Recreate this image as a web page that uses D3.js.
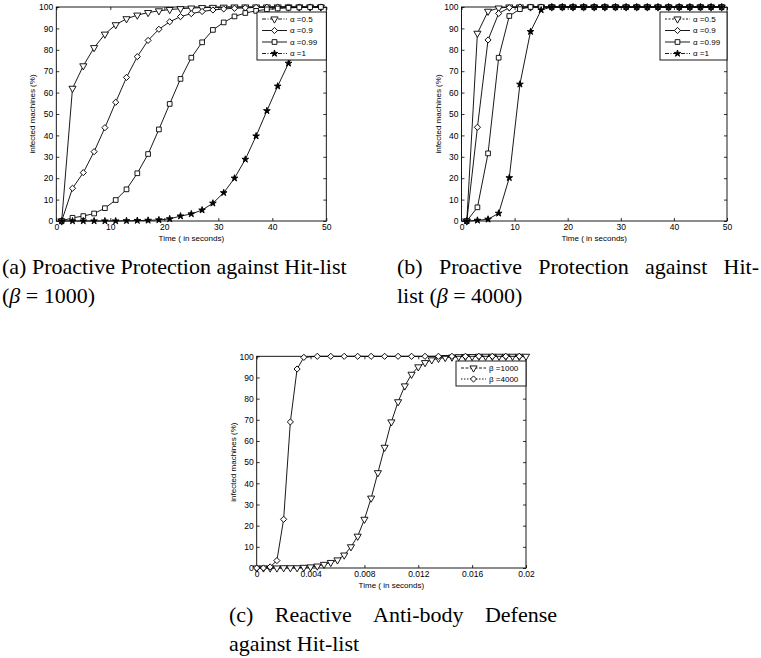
<!DOCTYPE html>
<html>
<head>
<meta charset="utf-8">
<script src="https://d3js.org/d3.v7.min.js"></script>
<style>
  body { margin: 0; background: #fff; }
  svg text { fill: #000; }
  .tick text { font-family: "Liberation Sans", Arial, sans-serif; font-size: 8.5px; }
  .lab { font-family: "Liberation Sans", Arial, sans-serif; font-size: 8px; }
  .cap { font-family: "Liberation Serif", "Times New Roman", serif; font-size: 22px; }
</style>
</head>
<body>
<svg id="fig" width="761" height="658"></svg>
<script>
"use strict";

// (a) and (b): time in seconds
var timeAB = [1, 3, 5, 7, 9, 11, 13, 15, 17, 19, 21, 23, 25, 27, 29, 31, 33, 35, 37, 39, 41, 43, 45, 47, 49];

// (a) beta = 1000
var a05  = [0, 62, 72.5, 81, 87.3, 91.7, 94.5, 96.2, 97.4, 98.2, 98.8, 99.2, 99.5, 99.7, 99.8, 99.9, 100, 100, 100, 100, 100, 100, 100, 100, 100];
var a09  = [0, 15.3, 22.6, 32.4, 43.6, 55.5, 67.1, 76.8, 84.4, 89.6, 93.1, 95.5, 96.9, 97.9, 98.6, 99.1, 99.4, 99.6, 99.8, 99.9, 100, 100, 100, 100, 100];
var a099 = [0, 1.5, 2.3, 3.5, 6, 9.8, 14.8, 22.3, 31.3, 42.8, 54.7, 66.4, 76.3, 83.5, 89.3, 92.8, 95.6, 97.2, 98.2, 98.9, 99.3, 99.6, 99.8, 99.9, 100];
var a1   = [0, 0, 0, 0, 0, 0, 0.1, 0.2, 0.3, 0.5, 1, 2.3, 3.3, 5.1, 8.3, 13.2, 20, 28.8, 39.7, 51.5, 63, 73.7, 82.5, 89, 93];

// (b) beta = 4000
var b05  = [0, 87.7, 98, 99.5, 100, 100, 100, 100, 100, 100, 100, 100, 100, 100, 100, 100, 100, 100, 100, 100, 100, 100, 100, 100, 100];
var b09  = [0, 43.8, 84.6, 97, 99.7, 100, 100, 100, 100, 100, 100, 100, 100, 100, 100, 100, 100, 100, 100, 100, 100, 100, 100, 100, 100];
var b099 = [0, 6.4, 31.6, 76.3, 95.8, 99, 100, 100, 100, 100, 100, 100, 100, 100, 100, 100, 100, 100, 100, 100, 100, 100, 100, 100, 100];
var b1   = [0, 0.3, 0.8, 3.6, 20.2, 63.9, 88.5, 98.6, 100, 100, 100, 100, 100, 100, 100, 100, 100, 100, 100, 100, 100, 100, 100, 100, 100];

// (c) reactive anti-body defense, time in seconds
var timeC = [0, 0.0005, 0.001, 0.0015, 0.002, 0.0025, 0.003, 0.0035, 0.004, 0.0045,
             0.005, 0.0055, 0.006, 0.0065, 0.007, 0.0075, 0.008, 0.0085, 0.009, 0.0095,
             0.01, 0.0105, 0.011, 0.0115, 0.012, 0.0125, 0.013, 0.0135, 0.014, 0.0145,
             0.015, 0.0155, 0.016, 0.0165, 0.017, 0.0175, 0.018, 0.0185, 0.019, 0.0195, 0.02];
var c1000 = [0, 0, 0, 0, 0.1, 0.1, 0.1, 0.3, 0.5, 0.9,
             1.7, 2.6, 3.8, 6.1, 10, 15, 23, 33, 45, 57,
             69, 78.5, 86, 91.5, 95, 97, 98.3, 99, 99.4, 99.6,
             99.8, 99.9, 99.9, 100, 100, 100, 100, 100, 100, 100, 100];
// beta = 4000 is sampled more coarsely once it saturates
var timeC4 = [0, 0.0005, 0.001, 0.0015, 0.002, 0.0025, 0.003, 0.0035, 0.0045,
              0.0055, 0.0065, 0.0075, 0.0085, 0.0095, 0.0105, 0.0115, 0.0125,
              0.0135, 0.0145, 0.0155, 0.0165, 0.0175, 0.0185, 0.0195];
var c4000 = [0, 0, 0.5, 3.5, 23, 69, 94, 99.5, 100,
             100, 100, 100, 100, 100, 100, 100, 100,
             100, 100, 100, 100, 100, 100, 100];

var yTicks = [0, 10, 20, 30, 40, 50, 60, 70, 80, 90, 100];
var xTicksAB = [0, 10, 20, 30, 40, 50];
var xTicksC = [0, 0.004, 0.008, 0.012, 0.016, 0.02];
var xLabelsC = ["0", "0.004", "0.008", "0.012", "0.016", "0.02"];
var alphaNames = ["\u03b1 =0.5", "\u03b1 =0.9", "\u03b1 =0.99", "\u03b1 =1"];
var betaNames = ["\u03b2 =1000", "\u03b2 =4000"];

var svg = d3.select("#fig");

/*
 * marker shapes, MATLAB style
 */
var markers = {
	tri:  { type: d3.symbolTriangle, size: 22, rot: 180, fill: "#fff" },
	dia:  { type: d3.symbolSquare,   size: 19, rot: 45,  fill: "#fff" },
	sq:   { type: d3.symbolSquare,   size: 22, rot: 0,   fill: "#fff" },
	star: { type: d3.symbolStar,     size: 14, rot: 0,   fill: "#000" }
};

function addMarker(g, m, cx, cy) {
	g.append("path")
		.attr("d", d3.symbol().type(m.type).size(m.size)())
		.attr("transform", "translate(" + cx + "," + cy + ") rotate(" + m.rot + ")")
		.attr("fill", m.fill)
		.attr("stroke", "#000")
		.attr("stroke-width", 0.9);
}

function drawPanel(p) {
	var x = d3.scaleLinear().domain(p.xDomain).range([p.left, p.right]);
	var y = d3.scaleLinear().domain([0, 100]).range([p.bottom, p.top]);
	var g = svg.append("g");

	// inward ticks on all four sides
	g.append("g")
		.attr("transform", "translate(0," + p.bottom + ")")
		.call(d3.axisBottom(x).tickValues(p.xTicks)
			.tickFormat(function(d, i) { return p.xLabels[i]; })
			.tickSizeInner(-3).tickSizeOuter(0).tickPadding(3));
	g.append("g")
		.attr("transform", "translate(0," + p.top + ")")
		.call(d3.axisTop(x).tickValues(p.xTicks).tickFormat("")
			.tickSizeInner(-3).tickSizeOuter(0));
	g.append("g")
		.attr("transform", "translate(" + p.left + ",0)")
		.call(d3.axisLeft(y).tickValues(yTicks).tickFormat(d3.format("d"))
			.tickSizeInner(-3).tickSizeOuter(0).tickPadding(3));
	g.append("g")
		.attr("transform", "translate(" + p.right + ",0)")
		.call(d3.axisRight(y).tickValues(yTicks).tickFormat("")
			.tickSizeInner(-3).tickSizeOuter(0));
	g.selectAll(".domain").remove();
	g.selectAll(".tick line").attr("stroke", "#000").attr("stroke-width", 0.8);

	g.append("rect")
		.attr("x", p.left).attr("y", p.top)
		.attr("width", p.right - p.left).attr("height", p.bottom - p.top)
		.attr("fill", "none").attr("stroke", "#000").attr("stroke-width", 0.9);

	// curves
	var line = d3.line()
		.x(function(d) { return x(d[0]); })
		.y(function(d) { return y(d[1]); });

	p.series.forEach(function(s) {
		var pts = s.time.map(function(t, i) { return [t, s.values[i]]; });
		g.append("path")
			.datum(pts)
			.attr("d", line)
			.attr("fill", "none")
			.attr("stroke", "#000")
			.attr("stroke-width", 0.9);
		pts.forEach(function(d) {
			addMarker(g, markers[s.marker], x(d[0]), y(d[1]));
		});
	});

	// legend
	var L = p.legend;
	var lg = g.append("g");
	lg.append("rect")
		.attr("x", L.x).attr("y", L.y)
		.attr("width", L.w).attr("height", L.h)
		.attr("fill", "#fff").attr("stroke", "#000").attr("stroke-width", 0.9);
	p.series.forEach(function(s, i) {
		var ly = L.y + 7 + i * L.step;
		lg.append("line")
			.attr("x1", L.x + 5).attr("x2", L.x + 30)
			.attr("y1", ly).attr("y2", ly)
			.attr("stroke", "#000").attr("stroke-width", 0.9)
			.attr("stroke-dasharray", s.dash || null);
		addMarker(lg, markers[s.marker], L.x + 17.5, ly);
		lg.append("text")
			.attr("class", "lab")
			.attr("x", L.x + 33).attr("y", ly)
			.attr("dy", "0.35em")
			.text(s.name);
	});

	// axis labels
	g.append("text")
		.attr("class", "lab")
		.attr("text-anchor", "middle")
		.attr("x", (p.left + p.right) / 2)
		.attr("y", p.bottom + 20)
		.text("Time ( in seconds)");
	g.append("text")
		.attr("class", "lab")
		.attr("text-anchor", "middle")
		.attr("transform", "translate(" + (p.left - 21) + "," + ((p.top + p.bottom) / 2) + ") rotate(-90)")
		.text("infected machines (%)");
}

drawPanel({
	left: 56.3, right: 326.3, top: 7, bottom: 221,
	xDomain: [0, 50], xTicks: xTicksAB, xLabels: xTicksAB.map(String),
	legend: { x: 257, y: 12, w: 69.3, h: 48, step: 11.5 },
	series: [
		{ name: alphaNames[0], time: timeAB, values: a05,  marker: "tri",  dash: "4,1.5,1,1.5" },
		{ name: alphaNames[1], time: timeAB, values: a09,  marker: "dia" },
		{ name: alphaNames[2], time: timeAB, values: a099, marker: "sq" },
		{ name: alphaNames[3], time: timeAB, values: a1,   marker: "star", dash: "4,1.5,1,1.5" }
	]
});

drawPanel({
	left: 461.5, right: 727, top: 7, bottom: 221,
	xDomain: [0, 50], xTicks: xTicksAB, xLabels: xTicksAB.map(String),
	legend: { x: 660, y: 12, w: 67, h: 48, step: 11.5 },
	series: [
		{ name: alphaNames[0], time: timeAB, values: b05,  marker: "tri",  dash: "2,1.5" },
		{ name: alphaNames[1], time: timeAB, values: b09,  marker: "dia" },
		{ name: alphaNames[2], time: timeAB, values: b099, marker: "sq" },
		{ name: alphaNames[3], time: timeAB, values: b1,   marker: "star", dash: "4,1.5,1,1.5" }
	]
});

drawPanel({
	left: 256.7, right: 526, top: 356.3, bottom: 568,
	xDomain: [0, 0.02], xTicks: xTicksC, xLabels: xLabelsC,
	legend: { x: 456, y: 361, w: 70, h: 25, step: 11 },
	series: [
		{ name: betaNames[0], time: timeC,  values: c1000, marker: "tri", dash: "3,1.5" },
		{ name: betaNames[1], time: timeC4, values: c4000, marker: "dia", dash: "1.5,1.5" }
	]
});

/*
 * captions, Times; some lines are justified word by word
 */
function caption(x0, y0, lines) {
	lines.forEach(function(ln, li) {
		var yy = y0 + li * 28.5;
		if (!ln.justify) {
			var t = svg.append("text").attr("class", "cap").attr("x", x0).attr("y", yy);
			ln.parts.forEach(function(pt) {
				t.append("tspan").attr("font-style", pt.it ? "italic" : null).text(pt.s);
			});
			return;
		}
		var nodes = ln.words.map(function(w) {
			return svg.append("text").attr("class", "cap").attr("y", yy).text(w);
		});
		var widths = nodes.map(function(n) { return n.node().getComputedTextLength(); });
		var gap = (ln.width - d3.sum(widths)) / (nodes.length - 1);
		var cx = x0;
		nodes.forEach(function(n, i) {
			n.attr("x", cx);
			cx += widths[i] + gap;
		});
	});
}

caption(2, 274, [
	{ parts: [{ s: "(a) Proactive Protection against Hit-list" }] },
	{ parts: [{ s: "(" }, { s: "\u03b2", it: true }, { s: " = 1000)" }] }
]);
caption(397, 274, [
	{ justify: true, width: 362, words: ["(b)", "Proactive", "Protection", "against", "Hit-"] },
	{ parts: [{ s: "list (" }, { s: "\u03b2", it: true }, { s: " = 4000)" }] }
]);
caption(229, 622, [
	{ justify: true, width: 328, words: ["(c)", "Reactive", "Anti-body", "Defense"] },
	{ parts: [{ s: "against Hit-list" }] }
]);
</script>
</body>
</html>
